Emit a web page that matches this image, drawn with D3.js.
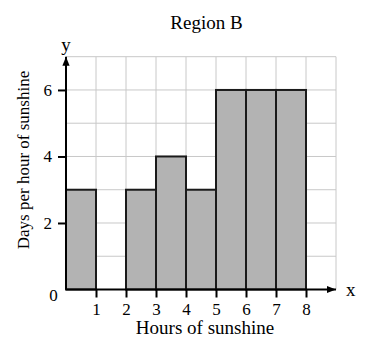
<!DOCTYPE html>
<html>
<head>
<meta charset="utf-8">
<script src="https://cdn.jsdelivr.net/npm/d3@7"></script>
<style>
  body { margin: 0; background: #fff; }
  text { font-family: "Liberation Serif", "Times New Roman", serif; fill: #000; }
</style>
</head>
<body>
<div id="chart"></div>
<script>
// histogram bins (hours of sunshine) and frequency density
const binStarts = [0, 1, 2, 3, 4, 5, 6, 7];
const binEnds = [1, 2, 3, 4, 5, 6, 7, 8];
const densities = [3, 0, 3, 4, 3, 6, 6, 6];
const xTicks = [1, 2, 3, 4, 5, 6, 7, 8];
const yTicks = [2, 4, 6];

const width = 366, height = 354;

const svg = d3.select("#chart").append("svg")
    .attr("width", width)
    .attr("height", height);

const x = d3.scaleLinear().domain([0, 9]).range([66, 336]);
const y = d3.scaleLinear().domain([0, 7]).range([289.5, 56.7]);

// grid
const grid = svg.append("g").attr("class", "grid");
grid.selectAll("line.v")
    .data(d3.range(1, 10))
    .enter().append("line")
    .attr("x1", d => x(d)).attr("x2", d => x(d))
    .attr("y1", y(0)).attr("y2", y(7))
    .style("stroke", "#c8c8c8").style("stroke-width", 1);
grid.selectAll("line.h")
    .data(d3.range(1, 8))
    .enter().append("line")
    .attr("x1", x(0)).attr("x2", x(9))
    .attr("y1", d => y(d)).attr("y2", d => y(d))
    .style("stroke", "#c8c8c8").style("stroke-width", 1);

// bars
const bins = binStarts.map((s, i) => ({ x0: s, x1: binEnds[i], v: densities[i] }))
    .filter(d => d.v > 0);
svg.selectAll("rect.bar")
    .data(bins)
    .enter().append("rect")
    .attr("class", "bar")
    .attr("x", d => x(d.x0))
    .attr("width", d => x(d.x1) - x(d.x0))
    .attr("y", d => y(d.v))
    .attr("height", d => y(0) - y(d.v))
    .style("fill", "#b3b3b3")
    .style("stroke", "#1a1a1a")
    .style("stroke-width", 2);

// arrow heads
const defs = svg.append("defs");
defs.append("marker")
    .attr("id", "arrow")
    .attr("viewBox", "0 0 10 10")
    .attr("refX", 10).attr("refY", 5)
    .attr("markerWidth", 4.5).attr("markerHeight", 4.5)
    .attr("markerUnits", "strokeWidth")
    .attr("orient", "auto")
    .append("path")
    .attr("d", "M0,1 L10,5 L0,9 Z")
    .style("fill", "#000");

// x axis
const xAxis = svg.append("g")
    .attr("transform", "translate(0," + y(0) + ")")
    .call(d3.axisBottom(x).tickValues(xTicks).tickSize(8).tickPadding(5).tickFormat(d3.format("d")));
xAxis.select(".domain").remove();
xAxis.selectAll(".tick line").style("stroke", "#000").style("stroke-width", 2);
xAxis.selectAll(".tick text").style("font-size", "17px").style("font-family", "Liberation Serif");

svg.append("line")
    .attr("x1", x(0)).attr("x2", x(9))
    .attr("y1", y(0)).attr("y2", y(0))
    .style("stroke", "#000").style("stroke-width", 2)
    .attr("marker-end", "url(#arrow)");

// y axis
const yAxis = svg.append("g")
    .attr("transform", "translate(" + x(0) + ",0)")
    .call(d3.axisLeft(y).tickValues(yTicks).tickSize(8).tickPadding(6).tickFormat(d3.format("d")));
yAxis.select(".domain").remove();
yAxis.selectAll(".tick line").style("stroke", "#000").style("stroke-width", 2);
yAxis.selectAll(".tick text").style("font-size", "17px").style("font-family", "Liberation Serif");

svg.append("line")
    .attr("x1", x(0)).attr("x2", x(0))
    .attr("y1", y(0)).attr("y2", y(7))
    .style("stroke", "#000").style("stroke-width", 2)
    .attr("marker-end", "url(#arrow)");

// origin label
svg.append("text")
    .attr("x", 53.5).attr("y", y(0) + 11)
    .attr("text-anchor", "middle")
    .style("font-size", "17px")
    .text("0");

// axis letters
svg.append("text")
    .attr("x", x(9) + 10).attr("y", y(0) + 6)
    .style("font-size", "19px")
    .text("x");
svg.append("text")
    .attr("x", x(0)).attr("y", y(7) - 6)
    .attr("text-anchor", "middle")
    .style("font-size", "19px")
    .text("y");

// title
svg.append("text")
    .attr("x", 206.5).attr("y", 29)
    .attr("text-anchor", "middle")
    .style("font-size", "19px")
    .text("Region B");

// axis titles
svg.append("text")
    .attr("x", 205).attr("y", 334)
    .attr("text-anchor", "middle")
    .style("font-size", "19px")
    .text("Hours of sunshine");

svg.append("text")
    .attr("transform", "translate(29,160) rotate(-90)")
    .attr("text-anchor", "middle")
    .style("font-size", "17px")
    .text("Days per hour of sunshine");
</script>
</body>
</html>
